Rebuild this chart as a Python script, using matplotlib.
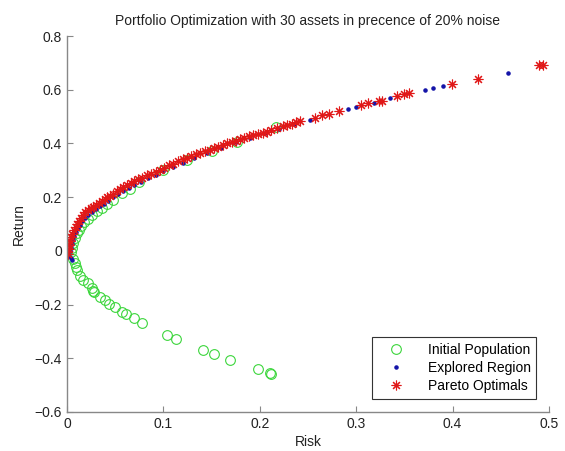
import matplotlib
matplotlib.use('Agg')
import matplotlib.pyplot as plt

plt.rcParams['font.family'] = ['Liberation Sans', 'DejaVu Sans']

# initial population (risk, return)
init_risk = [0.004, 0.005, 0.006, 0.008, 0.010, 0.012, 0.015, 0.018, 0.022, 0.026,
             0.031, 0.036, 0.042, 0.048, 0.0567, 0.065, 0.075, 0.0998, 0.125, 0.150,
             0.176, 0.217,
             0.006, 0.008, 0.009, 0.010, 0.013, 0.017, 0.022, 0.026, 0.027, 0.028,
             0.034, 0.039, 0.044, 0.050, 0.057, 0.061, 0.069, 0.078, 0.104, 0.113,
             0.141, 0.152, 0.169, 0.198, 0.211, 0.212]
init_ret = [-0.005, 0.012, 0.030, 0.048, 0.065, 0.078, 0.093, 0.106, 0.120, 0.134,
            0.147, 0.160, 0.175, 0.190, 0.214, 0.232, 0.256, 0.301, 0.338, 0.372,
            0.406, 0.462,
            -0.030, -0.046, -0.060, -0.071, -0.094, -0.108, -0.118, -0.140, -0.148, -0.152,
            -0.171, -0.183, -0.198, -0.210, -0.226, -0.236, -0.251, -0.267, -0.313, -0.329,
            -0.369, -0.384, -0.406, -0.441, -0.455, -0.458]

# explored region
expl_risk = [0.002, 0.004, 0.005, 0.003, 0.004, 0.005, 0.006, 0.007, 0.009, 0.011,
             0.013, 0.016, 0.019, 0.022, 0.026, 0.030, 0.034, 0.038, 0.043, 0.048,
             0.053, 0.058, 0.064, 0.070, 0.077, 0.084, 0.092, 0.100, 0.110, 0.120,
             0.132, 0.145, 0.160, 0.175, 0.190, 0.205, 0.220, 0.236, 0.252, 0.2915,
             0.2995, 0.318, 0.335, 0.371, 0.380, 0.390, 0.457]
expl_ret = [-0.020, -0.028, -0.034, 0.000, 0.012, 0.026, 0.040, 0.054, 0.069, 0.084,
            0.096, 0.111, 0.123, 0.134, 0.145, 0.156, 0.166, 0.175, 0.186, 0.199,
            0.210, 0.222, 0.234, 0.246, 0.258, 0.270, 0.283, 0.296, 0.313, 0.329,
            0.347, 0.365, 0.384, 0.404, 0.422, 0.438, 0.455, 0.473, 0.488, 0.529,
            0.537, 0.552, 0.569, 0.601, 0.608, 0.614, 0.663]

# pareto optimals
par_risk = [0.001, 0.002, 0.002, 0.003, 0.004, 0.005, 0.007, 0.009, 0.010, 0.012,
            0.014, 0.017, 0.019, 0.022, 0.025, 0.027, 0.030, 0.033, 0.036, 0.039,
            0.042, 0.045, 0.048, 0.052, 0.055, 0.058, 0.062, 0.066, 0.070, 0.074,
            0.078, 0.083, 0.087, 0.092, 0.096, 0.101, 0.106, 0.110, 0.115, 0.120,
            0.124, 0.129, 0.134, 0.138, 0.143, 0.148, 0.152, 0.157, 0.162, 0.166,
            0.171, 0.175, 0.179, 0.184, 0.189, 0.193, 0.198, 0.203, 0.207, 0.212,
            0.218, 0.224, 0.228, 0.233, 0.238, 0.242, 0.257, 0.265, 0.272, 0.282,
            0.305, 0.312, 0.324, 0.327, 0.342, 0.350, 0.355, 0.399, 0.426, 0.490,
            0.494]
par_ret = [-0.010, 0.008, 0.022, 0.035, 0.050, 0.063, 0.078, 0.090, 0.100, 0.112,
           0.122, 0.135, 0.143, 0.151, 0.158, 0.164, 0.171, 0.178, 0.185, 0.192,
           0.199, 0.206, 0.213, 0.222, 0.230, 0.237, 0.244, 0.252, 0.259, 0.266,
           0.272, 0.281, 0.288, 0.295, 0.301, 0.310, 0.318, 0.325, 0.333, 0.341,
           0.347, 0.354, 0.360, 0.366, 0.371, 0.377, 0.382, 0.388, 0.395, 0.400,
           0.406, 0.411, 0.415, 0.421, 0.427, 0.431, 0.436, 0.440, 0.444, 0.450,
           0.457, 0.465, 0.469, 0.473, 0.480, 0.482, 0.494, 0.505, 0.511, 0.521,
           0.543, 0.549, 0.557, 0.560, 0.577, 0.583, 0.587, 0.621, 0.642, 0.691,
           0.693]

x_ticks = [0, 0.1, 0.2, 0.3, 0.4, 0.5]
x_labels = ['0', '0.1', '0.2', '0.3', '0.4', '0.5']
y_ticks = [-0.6, -0.4, -0.2, 0, 0.2, 0.4, 0.6, 0.8]
y_labels = ['\u22120.6', '\u22120.4', '\u22120.2', '0', '0.2', '0.4', '0.6', '0.8']

fig = plt.figure(figsize=(5.65, 4.51), dpi=100)
ax = fig.add_axes([0.1186, 0.0865, 0.853, 0.8335])

ax.plot(init_risk, init_ret, 'o', color='#3cd63c', mfc='none', markersize=7,
        markeredgewidth=0.8, label='Initial Population')
ax.plot(expl_risk, expl_ret, '.', color='#1414a8', markersize=4.5, label='Explored Region')
# matlab style asterisk
ax.plot(par_risk, par_ret, marker=(8, 2, 0), linestyle='none', color='#e01818',
        markersize=7, markeredgewidth=0.8, label='Pareto Optimals')

ax.set_xlim(0, 0.5)
ax.set_ylim(-0.6, 0.8)
ax.set_xticks(x_ticks)
ax.set_xticklabels(x_labels)
ax.set_yticks(y_ticks)
ax.set_yticklabels(y_labels)
ax.tick_params(direction='in', length=4, width=0.8, color='#888888', labelsize=10,
               labelcolor='#222222')
for s in ['top', 'right']:
    ax.spines[s].set_visible(False)
for s in ['left', 'bottom']:
    ax.spines[s].set_color('#888888')
    ax.spines[s].set_linewidth(1.0)

ax.set_xlabel('Risk', fontsize=10, color='#222222', labelpad=3)
ax.set_ylabel('Return', fontsize=10, color='#222222', labelpad=6)
ax.set_title('Portfolio Optimization with 30 assets in precence of 20% noise',
             fontsize=10, color='#222222', pad=8)

leg = ax.legend(loc='lower right', bbox_to_anchor=(0.988, 0.017), fontsize=10,
                fancybox=False, edgecolor='#333333', framealpha=1,
                borderpad=0.4, labelspacing=0.3, handlelength=2.6, handletextpad=1.0)
leg.get_frame().set_linewidth(0.8)

fig.savefig('out.png', dpi=100)
